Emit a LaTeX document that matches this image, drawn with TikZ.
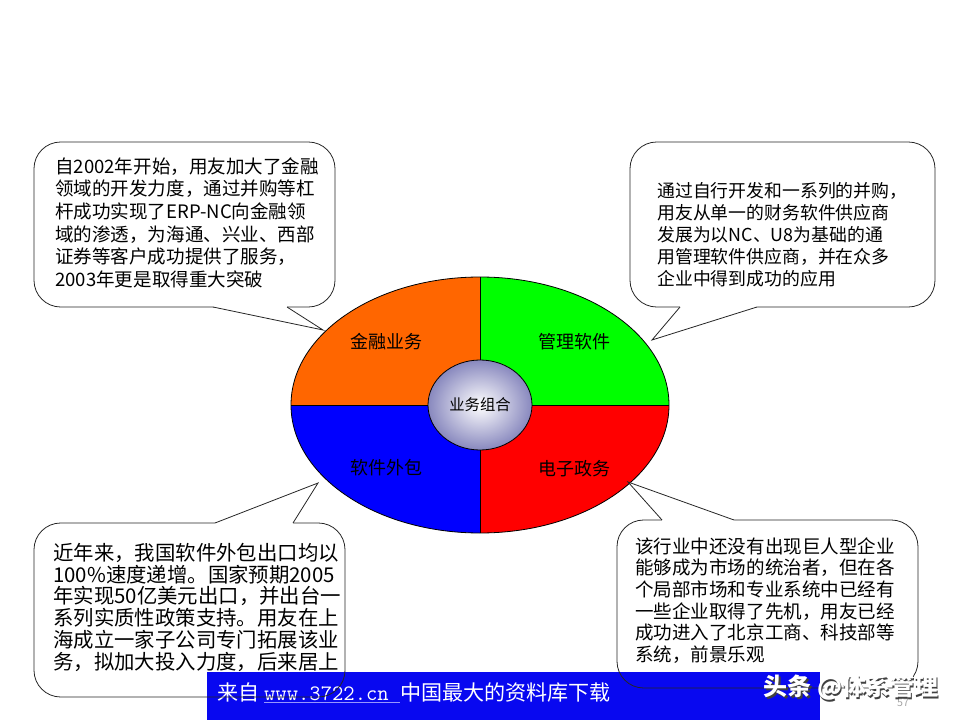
\documentclass[tikz,border=0pt]{standalone}
\usepackage{fontspec}
\setmainfont{Noto Sans CJK SC}
\usetikzlibrary{shapes.geometric, positioning}
\definecolor{finorange}{RGB}{255,102,0}
\definecolor{mgmtgreen}{RGB}{0,255,0}
\definecolor{outsblue}{RGB}{0,0,255}
\definecolor{egovred}{RGB}{255,0,0}
\definecolor{hubedge}{RGB}{136,136,190}
\definecolor{bannerblue}{RGB}{8,8,240}
\definecolor{urlline}{RGB}{150,150,255}
\tikzset{
  pie part/.style={draw=black, line width=0.6pt},
  part label/.style={
    font=\fontsize{13.5}{16}\selectfont, text=black, inner sep=0pt
  },
  hub/.style={
    ellipse, draw=black, line width=0.6pt,
    minimum width=78pt, minimum height=67.5pt, inner sep=0pt,
    inner color=white, outer color=hubedge,
    font=\fontsize{11.5}{14}\selectfont
  },
  bubble/.style={draw=black!85, line width=0.6pt, rounded corners=20pt},
  bubble tail/.style={draw=black!85, line width=0.6pt},
  bubble text/.style={
    anchor=north west, align=left, inner sep=0pt, text=black
  },
  banner/.style={fill=bannerblue, draw=none},
  banner text/.style={
    anchor=west, inner sep=0pt, text=white,
    font=\fontsize{15.8}{18}\selectfont
  },
  mark text/.style={font=\fontsize{18}{20}\selectfont\bfseries, inner sep=0pt},
  page no/.style={font=\fontsize{8}{9}\selectfont, text=black!35, inner sep=0pt}
}

\begin{document}
\begin{tikzpicture}[x=0.75pt, y=-0.75pt]
  \useasboundingbox (0,0) rectangle (960,720);

  % the four parts
  \begin{scope}
    \clip (480,405) ellipse [x radius=141.75pt, y radius=96pt];
    \fill[finorange] (280,270) rectangle (480,405);
    \fill[mgmtgreen] (480,270) rectangle (680,405);
    \fill[outsblue] (280,405) rectangle (480,540);
    \fill[egovred] (480,405) rectangle (680,540);
  \end{scope}
  \draw[pie part] (480,405) ellipse [x radius=141.75pt, y radius=96pt];
  \draw[pie part] (291,405) -- (669,405);
  \draw[pie part] (480,277) -- (480,533);

  \node (fin) [part label] at (386,342) {金融业务};
  \node (mgmt) [part label] at (574,342) {管理软件};
  \node (outs) [part label] at (386,468) {软件外包};
  \node (egov) [part label] at (574,469) {电子政务};
  \node (hub) [hub] at (480,405) {业务组合};

  % banner
  \fill[banner] (207,672) rectangle (820,720);
  \node (src) [banner text] at (217,693)
    {来自 {\ttfamily\fontsize{16.5}{18}\selectfont\color{urlline}\underline{\color{white}www.3722.cn\ }}中国最大的资料库下载};

  % callouts
  \coordinate (fin tip) at (323,330);
  \coordinate (mgmt tip) at (652,340);
  \coordinate (outs tip) at (318,483);
  \coordinate (egov tip) at (628,482);

  \draw[bubble] (34,142) rectangle (335,307);
  \fill[white] (213,305) -- (213,307) -- (fin tip) -- (287,307) -- (287,305) -- cycle;
  \draw[bubble tail] (213,307) -- (fin tip) -- (287,307);
  \node (fin text) [bubble text, font=\fontsize{13.9}{17}\selectfont] at (55,157)
    {自2002年开始，用友加大了金融\\领域的开发力度，通过并购等杠\\杆成功实现了ERP-NC向金融领\\域的渗透，为海通、兴业、西部\\证券等客户成功提供了服务，\\2003年更是取得重大突破};

  \draw[bubble] (630,142) rectangle (935,307);
  \fill[white] (680,305) -- (680,307) -- (mgmt tip) -- (757,307) -- (757,305) -- cycle;
  \draw[bubble tail] (680,307) -- (mgmt tip) -- (757,307);
  \node (mgmt text) [bubble text, font=\fontsize{13.4}{16.5}\selectfont] at (657,182)
    {通过自行开发和一系列的并购，\\用友从单一的财务软件供应商\\发展为以NC、U8为基础的通\\用管理软件供应商，并在众多\\企业中得到成功的应用};

  \draw[bubble] (34,523) rectangle (345,697);
  \fill[white] (215,525) -- (215,523) -- (outs tip) -- (293,523) -- (293,525) -- cycle;
  \draw[bubble tail] (215,523) -- (outs tip) -- (293,523);
  \node (outs text) [bubble text, font=\fontsize{15.3}{16.3}\selectfont] at (53,543)
    {近年来，我国软件外包出口均以\\100\%速度递增。国家预期2005\\年实现50亿美元出口，并出台一\\系列实质性政策支持。用友在上\\海成立一家子公司专门拓展该业\\务，拟加大投入力度，后来居上};

  \draw[bubble] (617,520) rectangle (918,688);
  \fill[white] (662,522) -- (662,520) -- (egov tip) -- (734,520) -- (734,522) -- cycle;
  \draw[bubble tail] (662,520) -- (egov tip) -- (734,520);
  \node (egov text) [bubble text, font=\fontsize{13.9}{16.3}\selectfont] at (635,537)
    {该行业中还没有出现巨人型企业\\能够成为市场的统治者，但在各\\个局部市场和专业系统中已经有\\一些企业取得了先机，用友已经\\成功进入了北京工商、科技部等\\系统，前景乐观};

  % page number and mark
  \node (pg) [page no] at (903,703) {57};
  \node (mark shadow) [mark text, text=black!75] at (852.5,689.5) {头条 @体系管理};
  \node (mark) [mark text, text=white] at (851,688) {头条 @体系管理};
\end{tikzpicture}
\end{document}
